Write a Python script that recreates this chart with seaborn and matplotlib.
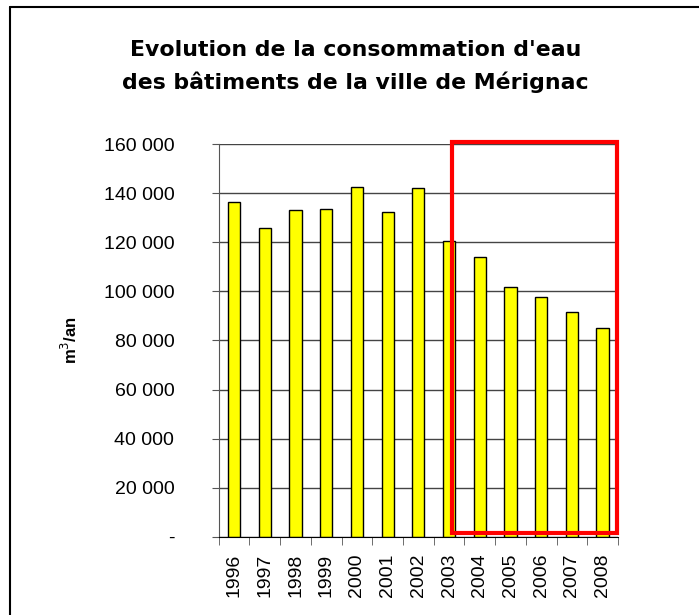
import matplotlib
matplotlib.use("Agg")
import matplotlib.pyplot as plt
import matplotlib.ticker as mticker
from matplotlib.patches import Rectangle
from matplotlib.lines import Line2D
import seaborn as sns
import pandas as pd

years = ["1996", "1997", "1998", "1999", "2000", "2001", "2002",
         "2003", "2004", "2005", "2006", "2007", "2008"]
consumption = [136300, 126000, 133100, 133500, 142700, 132500, 142200,
               120400, 114000, 102000, 97600, 91700, 85200]
yticks = [0, 20000, 40000, 60000, 80000, 100000, 120000, 140000, 160000]

df = pd.DataFrame({"annee": years, "m3": consumption})

sns.set_style("white")
plt.rcParams["font.family"] = ["Liberation Sans", "DejaVu Sans"]
plt.rcParams["text.color"] = "black"
plt.rcParams["xtick.color"] = "black"
plt.rcParams["ytick.color"] = "black"
plt.rcParams["axes.labelcolor"] = "black"

fig = plt.figure(figsize=(6.99, 6.15), dpi=100)
ax = fig.add_axes([0.313, 0.1273, 0.571, 0.6381])

sns.barplot(data=df, x="annee", y="m3", color="#FFFF00", edgecolor="black",
            linewidth=1, width=0.4, saturation=1, ax=ax)

ax.set_xlim(-0.5, len(years) - 0.5)
ax.set_ylim(0, 160000)
ax.set_yticks(yticks)
ax.yaxis.set_major_formatter(mticker.FuncFormatter(
    lambda v, p: "-" if v == 0 else f"{v:,.0f}".replace(",", " ")))
ax.yaxis.grid(True, color="#444444", linewidth=1)
ax.set_axisbelow(True)

for s in ["top", "right"]:
    ax.spines[s].set_visible(False)
ax.spines["left"].set_color("#555555")
ax.spines["bottom"].set_color("black")

ax.tick_params(axis="y", direction="out", length=5, color="#555555",
               labelsize=14, pad=27, left=True)
ax.tick_params(axis="x", which="major", length=0, labelsize=14,
               labelrotation=90, pad=12)
ax.set_xticks([i - 0.5 for i in range(len(years) + 1)], minor=True)
ax.tick_params(axis="x", which="minor", direction="out", length=6,
               color="#555555", bottom=True)

ax.set_xlabel("")
ax.set_ylabel("m$^3$/an", fontsize=12, fontweight="bold", labelpad=17)

# highlighted period
ax.add_patch(Rectangle((7.1, 1400), 5.37, 159400, fill=False,
                       edgecolor="#FF0000", linewidth=3, clip_on=False,
                       zorder=5))

fig.text(0.509, 0.892, "Evolution de la consommation d'eau\ndes bâtiments de la ville de Mérignac",
         ha="center", va="center", fontsize=15.8, fontweight="bold",
         family="DejaVu Sans", linespacing=1.65)

# frame (left and top edges only)
fig.add_artist(Line2D([10 / 699, 10 / 699], [0, 1 - 7 / 615],
                      color="black", linewidth=1.5, transform=fig.transFigure))
fig.add_artist(Line2D([10 / 699, 1], [1 - 7 / 615, 1 - 7 / 615],
                      color="black", linewidth=1.5, transform=fig.transFigure))

fig.savefig("out.png", dpi=100)
